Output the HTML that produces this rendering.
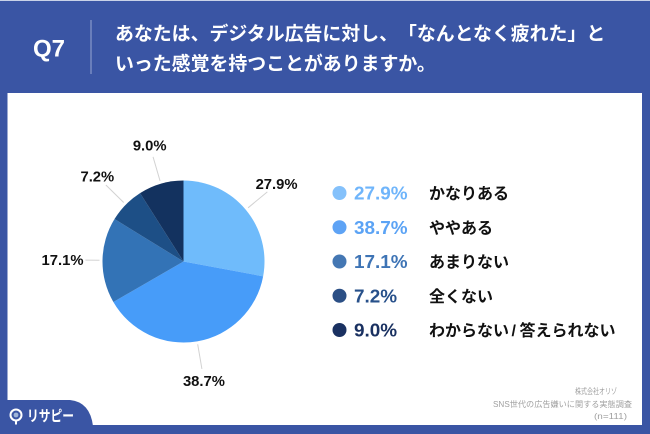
<!DOCTYPE html>
<html lang="ja">
<head>
<meta charset="utf-8">
<title>Q7</title>
<style>
html,body{margin:0;padding:0;background:#3a55a4;}
body{width:650px;height:434px;overflow:hidden;}
svg{display:block;font-family:"Liberation Sans","Noto Sans CJK JP",sans-serif;text-spacing-trim:space-all;}
</style>
</head>
<body>
<svg id="chart" xmlns="http://www.w3.org/2000/svg" width="650" height="434" viewBox="0 0 650 434">
  <rect x="0" y="0" width="650" height="434" fill="#3a55a4"/>
  <rect x="0" y="0" width="650" height="1" fill="#c9d2e8"/>
  <text x="49" y="56.5" font-size="24" font-weight="700" fill="#fff" text-anchor="middle">Q7</text>
  <rect x="90.5" y="20" width="1" height="54" fill="#98a8d2"/>
  <text x="115" y="40" font-size="18.9" font-weight="700" fill="#fff">あなたは、デジタル広告に対し、「なんとなく疲れた」と</text>
  <text x="115" y="70" font-size="18.9" font-weight="700" fill="#fff">いった感覚を持つことがありますか。</text>
  <rect x="7.5" y="93" width="634.5" height="332" fill="#fff"/>
  <path d="M0 400 H70 Q90 402 93 426 V434 H0 Z" fill="#3a55a4"/>
  <g>
    <circle cx="16" cy="415" r="5.5" fill="#3a55a4" stroke="#fff" stroke-width="2"/>
    <circle cx="16" cy="415" r="2.4" fill="#9fb4d8"/>
    <rect x="15" y="421" width="2" height="3.5" fill="#fff"/>
  </g>
  <text x="27" y="421" font-size="15" font-weight="700" fill="#fff" textLength="47" lengthAdjust="spacingAndGlyphs">リサピー</text>
  <text x="575" y="394" font-size="8" fill="#a0a0a0" textLength="42" lengthAdjust="spacingAndGlyphs">株式会社オリゾ</text>
  <text x="493" y="407" font-size="8" fill="#a0a0a0" textLength="139" lengthAdjust="spacingAndGlyphs">SNS世代の広告嫌いに関する実態調査</text>
  <text x="594" y="419" font-size="8" fill="#a0a0a0" textLength="33" lengthAdjust="spacingAndGlyphs">(n=111)</text>
  <g id="pie"></g>
  <g id="legend"></g>
</svg>
<script>
const categories = ["かなりある", "ややある", "あまりない", "全くない", "わからない/答えられない"];
const seriesValues = [27.9, 38.7, 17.1, 7.2, 9.0];
const sliceColors = ["#6fbbfb", "#479cf9", "#3373b6", "#1d4f86", "#13325f"];
const dotColors = ["#84c1fb", "#5ea3f5", "#4477b3", "#2b4f85", "#1a3161"];
const percentColors = ["#6fb5fb", "#5ba3f5", "#3e74b5", "#27508a", "#1a3161"];

const NS = "http://www.w3.org/2000/svg";
const pieCx = 183.5, pieCy = 261.5, pieR = 81;
const total = seriesValues.reduce(function (a, b) { return a + b; }, 0);

function angleOf(v) { return v / total * Math.PI * 2; }
function polarX(a, r) { return pieCx + Math.sin(a) * r; }
function polarY(a, r) { return pieCy - Math.cos(a) * r; }
function fmt(v) { return v.toFixed(1) + "%"; }
function make(tag, attrs) {
  const el = document.createElementNS(NS, tag);
  Object.keys(attrs).forEach(function (k) { el.setAttribute(k, attrs[k]); });
  return el;
}

const pie = document.getElementById("pie");
const legend = document.getElementById("legend");
const labelLayer = [];
let cumulative = 0;

seriesValues.forEach(function (v, i) {
  const start = angleOf(cumulative);
  const end = angleOf(cumulative + v);
  const mid = (start + end) / 2;
  cumulative += v;

  const large = end - start > Math.PI ? 1 : 0;
  const slice = make("path", {
    d: "M" + pieCx + " " + pieCy + " L" + polarX(start, pieR) + " " + polarY(start, pieR) +
       " A" + pieR + " " + pieR + " 0 " + large + " 1 " + polarX(end, pieR) + " " + polarY(end, pieR) + " Z",
    fill: sliceColors[i]
  });
  
  
  pie.appendChild(slice);

  const leader = make("line", {
    x1: polarX(mid, 84), y1: polarY(mid, 84),
    x2: polarX(mid, 109), y2: polarY(mid, 109),
    stroke: "#d2d2d2", "stroke-width": 1
  });
  
  
  pie.appendChild(leader);

  const label = make("text", {
    x: polarX(mid, 121), y: polarY(mid, 121) + 5,
    "font-size": 14.8, "font-weight": 700, fill: "#111",
    "text-anchor": "middle", stroke: "#fff", "stroke-width": 5,
    "paint-order": "stroke", "stroke-linejoin": "round"
  });
  label.textContent = fmt(v);
  
  
  labelLayer.push(label);

  const rowY = 193 + i * 34.25;
  const dot = make("circle", { cx: 339.5, cy: rowY, r: 7, fill: dotColors[i] });
  
  
  legend.appendChild(dot);

  const pct = make("text", {
    x: 354, y: rowY + 6.5, "font-size": 18.9, "font-weight": 700, fill: percentColors[i]
  });
  pct.textContent = fmt(v);
  
  
  legend.appendChild(pct);

  const name = make("text", {
    x: 429, y: rowY + 6, "font-size": 16, "font-weight": 700, fill: "#111"
  });
  const parts = categories[i].split("/");
  parts.forEach(function (part, p) {
    const span = make("tspan", {});
    if (p > 0) {
      const slash = make("tspan", { dx: 2.5 });
      slash.textContent = "/";
      name.appendChild(slash);
      span.setAttribute("dx", 3.5);
    }
    span.textContent = part;
    name.appendChild(span);
  });
  
  
  legend.appendChild(name);
});

labelLayer.forEach(function (l) { pie.appendChild(l); });
</script>
</body>
</html>
